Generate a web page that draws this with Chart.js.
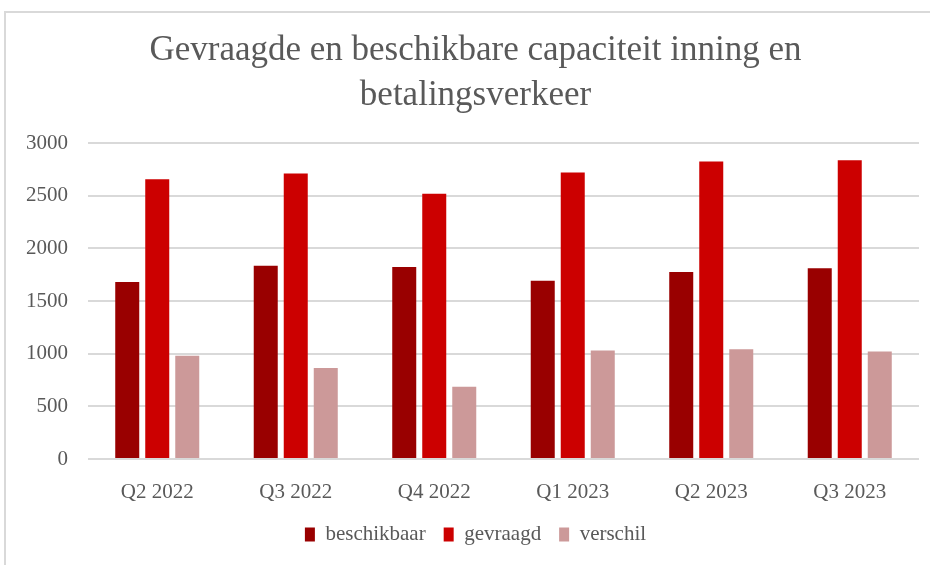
<!DOCTYPE html>
<html>
<head>
<meta charset="utf-8">
<script src="https://cdn.jsdelivr.net/npm/chart.js@4"></script>
<style>
  html, body { margin: 0; padding: 0; background: #fff; }
  #wrap { position: relative; width: 930px; height: 565px; }
  #frame {
    position: absolute; left: 4px; top: 11px; right: 0; bottom: 0;
    border-top: 2px solid #d9d9d9; border-left: 2px solid #d9d9d9;
  }
  canvas { position: absolute; left: 0; top: 0; }
</style>
</head>
<body>
<div id="wrap">
  <div id="frame"></div>
  <canvas id="chart" width="930" height="565"></canvas>
</div>
<script>
// categorieën en reeksen
const quarters = ['Q2 2022', 'Q3 2022', 'Q4 2022', 'Q1 2023', 'Q2 2023', 'Q3 2023'];
const beschikbaar = [1680, 1835, 1822, 1692, 1775, 1810];
const gevraagd = [2656, 2710, 2519, 2719, 2824, 2837];
const verschil = [980, 865, 687, 1030, 1043, 1021];
const yTicks = [0, 500, 1000, 1500, 2000, 2500, 3000];

const serif = "'Liberation Serif', 'DejaVu Serif', serif";
const grey = '#595959';

// titel en legenda iets naar rechts, zoals in het origineel
const shiftBlocks = {
    id: 'shiftBlocks',
    afterLayout(chart) {
        if (chart.titleBlock) chart.titleBlock.left += 32;
        if (chart.legend) chart.legend.left += 32;
    }
};

new Chart(document.getElementById('chart'), {
    type: 'bar',
    data: {
        labels: quarters,
        datasets: [
            { label: 'beschikbaar', data: beschikbaar, backgroundColor: '#990000' },
            { label: 'gevraagd', data: gevraagd, backgroundColor: '#cc0000' },
            { label: 'verschil', data: verschil, backgroundColor: '#cc9999' }
        ]
    },
    plugins: [shiftBlocks],
    options: {
        responsive: false,
        animation: false,
        devicePixelRatio: 1,
        categoryPercentage: 0.65,
        barPercentage: 0.8,
        layout: { padding: { left: 0, right: 11, bottom: 10 } },
        plugins: {
            title: {
                display: true,
                text: ['Gevraagde en beschikbare capaciteit inning en', 'betalingsverkeer'],
                color: grey,
                font: { family: serif, size: 35, weight: 'normal', lineHeight: 1.3 },
                padding: { top: 28, bottom: 24 }
            },
            legend: {
                position: 'bottom',
                labels: {
                    color: grey,
                    font: { family: serif, size: 21 },
                    boxWidth: 10,
                    boxHeight: 14,
                    padding: 18
                }
            },
            tooltip: { enabled: false }
        },
        scales: {
            x: {
                grid: { display: false },
                border: { display: false },
                ticks: { color: grey, font: { family: serif, size: 21 }, padding: 13 },
                afterFit: (scale) => { scale.height = 47; }
            },
            y: {
                min: 0,
                max: 3000,
                afterBuildTicks: (scale) => { scale.ticks = yTicks.map(v => ({ value: v })); },
                grid: { color: '#d9d9d9', lineWidth: 2, drawTicks: false },
                border: { display: false },
                ticks: {
                    color: grey,
                    font: { family: serif, size: 21 },
                    padding: 20,
                    callback: (value) => String(value)
                },
                afterFit: (scale) => { scale.width = 88; }
            }
        }
    }
});
</script>
</body>
</html>
